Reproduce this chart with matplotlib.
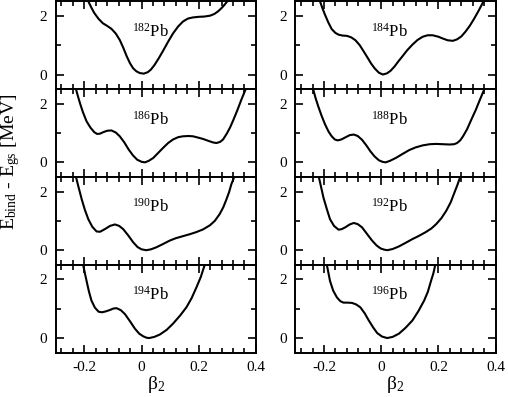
import numpy as np
import matplotlib
matplotlib.use("Agg")
import matplotlib.pyplot as plt
from matplotlib.ticker import MultipleLocator

plt.rcParams['font.family'] = ['Liberation Serif', 'DejaVu Serif']
plt.rcParams['mathtext.fontset'] = 'custom'
plt.rcParams['mathtext.rm'] = 'Liberation Serif'
plt.rcParams['mathtext.it'] = 'Liberation Serif:italic'
plt.rcParams['axes.unicode_minus'] = False

# beta_2 deformation vs E_bind - E_gs [MeV]
nuclei = ["182", "184", "186", "188", "190", "192", "194", "196"]

beta_182 = [-0.186, -0.175, -0.165, -0.15, -0.135, -0.12, -0.105, -0.09, -0.076,
            -0.064, -0.052, -0.04, -0.029, -0.018, -0.006, 0.008, 0.022, 0.033,
            0.045, 0.06, 0.076, 0.093, 0.11, 0.128, 0.145, 0.162, 0.18, 0.2,
            0.22, 0.24, 0.255, 0.268, 0.28, 0.29, 0.30]
e_182 = [2.50, 2.28, 2.10, 1.90, 1.75, 1.66, 1.56, 1.40, 1.18,
         0.92, 0.63, 0.38, 0.21, 0.11, 0.05, 0.03, 0.08, 0.17,
         0.32, 0.55, 0.82, 1.12, 1.40, 1.64, 1.81, 1.91, 1.95, 1.97,
         1.98, 2.01, 2.07, 2.16, 2.27, 2.38, 2.50]

beta_184 = [-0.214, -0.205, -0.196, -0.185, -0.173, -0.16, -0.149, -0.135, -0.12,
            -0.105, -0.09, -0.075, -0.062, -0.048, -0.035, -0.022, -0.008, 0.006,
            0.02, 0.033, 0.047, 0.06, 0.074, 0.09, 0.109, 0.127, 0.145, 0.162,
            0.18, 0.2, 0.215, 0.232, 0.25, 0.265, 0.28, 0.295, 0.31, 0.325,
            0.34, 0.355, 0.362]
e_184 = [2.50, 2.25, 2.03, 1.78, 1.55, 1.42, 1.36, 1.33, 1.32,
         1.27, 1.17, 1.00, 0.80, 0.58, 0.37, 0.20, 0.06, 0.0,
         0.04, 0.13, 0.28, 0.45, 0.62, 0.82, 1.02, 1.18, 1.29, 1.34,
         1.34, 1.29, 1.23, 1.17, 1.15, 1.20, 1.30, 1.47, 1.67, 1.91,
         2.17, 2.45, 2.55]

beta_186 = [-0.229, -0.222, -0.215, -0.205, -0.192, -0.178, -0.165, -0.155, -0.145,
            -0.134, -0.12, -0.105, -0.09, -0.076, -0.06, -0.045, -0.03, -0.015,
            0.0, 0.012, 0.025, 0.041, 0.058, 0.076, 0.093, 0.11, 0.128, 0.145,
            0.165, 0.18, 0.2, 0.215, 0.235, 0.25, 0.262, 0.275, 0.285, 0.298,
            0.31, 0.322, 0.335, 0.349, 0.362, 0.366]
e_186 = [2.50, 2.25, 2.02, 1.72, 1.40, 1.18, 1.03, 0.97, 0.98,
         1.03, 1.08, 1.09, 1.02, 0.89, 0.68, 0.44, 0.24, 0.09,
         0.02, 0.0, 0.05, 0.15, 0.32, 0.50, 0.66, 0.78, 0.86, 0.89,
         0.90, 0.89, 0.84, 0.80, 0.73, 0.68, 0.66, 0.70, 0.78, 0.98,
         1.20, 1.47, 1.78, 2.14, 2.45, 2.55]

beta_188 = [-0.238, -0.229, -0.22, -0.208, -0.196, -0.184, -0.173, -0.162, -0.152,
            -0.14, -0.126, -0.11, -0.096, -0.082, -0.067, -0.052, -0.038, -0.023,
            -0.008, 0.004, 0.015, 0.03, 0.051, 0.075, 0.098, 0.12, 0.145, 0.17,
            0.192, 0.215, 0.239, 0.255, 0.265, 0.276, 0.286, 0.3, 0.315, 0.33,
            0.345, 0.357, 0.362]
e_188 = [2.50, 2.18, 1.91, 1.58, 1.29, 1.05, 0.89, 0.78, 0.75,
         0.78, 0.85, 0.93, 0.95, 0.90, 0.77, 0.58, 0.38, 0.20,
         0.07, 0.02, 0.0, 0.05, 0.15, 0.29, 0.42, 0.51, 0.58, 0.62,
         0.63, 0.62, 0.61, 0.62, 0.66, 0.75, 0.89, 1.13, 1.46, 1.78,
         2.14, 2.42, 2.55]

beta_190 = [-0.229, -0.22, -0.209, -0.198, -0.186, -0.172, -0.157, -0.145, -0.128,
            -0.11, -0.093, -0.078, -0.064, -0.046, -0.029, -0.014, 0.0, 0.017,
            0.033, 0.052, 0.075, 0.099, 0.12, 0.145, 0.17, 0.192, 0.215, 0.239,
            0.256, 0.273, 0.286, 0.297, 0.306, 0.314, 0.326]
e_190 = [2.50, 2.15, 1.74, 1.38, 1.06, 0.80, 0.64, 0.63, 0.72,
         0.83, 0.88, 0.83, 0.72, 0.50, 0.27, 0.11, 0.03, 0.0,
         0.03, 0.10, 0.21, 0.33, 0.41, 0.48, 0.55, 0.62, 0.71, 0.85,
         1.00, 1.23, 1.47, 1.74, 1.98, 2.25, 2.55]

beta_192 = [-0.218, -0.21, -0.202, -0.19, -0.179, -0.165, -0.149, -0.138, -0.126,
            -0.11, -0.096, -0.082, -0.067, -0.05, -0.032, -0.016, -0.002, 0.01,
            0.021, 0.04, 0.062, 0.085, 0.109, 0.13, 0.156, 0.175, 0.192, 0.21,
            0.227, 0.243, 0.256, 0.266, 0.276]
e_192 = [2.50, 2.15, 1.80, 1.40, 1.06, 0.83, 0.70, 0.72, 0.78,
         0.88, 0.93, 0.89, 0.78, 0.56, 0.33, 0.16, 0.06, 0.02,
         0.0, 0.04, 0.13, 0.25, 0.38, 0.48, 0.62, 0.74, 0.89, 1.09,
         1.34, 1.64, 1.97, 2.22, 2.50]

beta_194 = [-0.204, -0.198, -0.192, -0.184, -0.175, -0.163, -0.15, -0.138, -0.125,
            -0.11, -0.098, -0.087, -0.072, -0.058, -0.04, -0.023, -0.008, 0.006,
            0.018, 0.027, 0.045, 0.064, 0.088, 0.11, 0.135, 0.157, 0.175, 0.192,
            0.207, 0.221]
e_194 = [2.50, 2.22, 1.95, 1.60, 1.28, 1.04, 0.90, 0.88, 0.91,
         0.96, 1.01, 1.02, 0.95, 0.82, 0.57, 0.32, 0.15, 0.06,
         0.01, 0.0, 0.04, 0.12, 0.28, 0.49, 0.77, 1.05, 1.36, 1.73,
         2.08, 2.50]

beta_196 = [-0.19, -0.184, -0.179, -0.168, -0.155, -0.143, -0.132, -0.118, -0.102,
            -0.088, -0.073, -0.058, -0.044, -0.028, -0.014, 0.003, 0.021, 0.04,
            0.062, 0.085, 0.109, 0.13, 0.15, 0.163, 0.174, 0.182, 0.189]
e_196 = [2.50, 2.20, 1.95, 1.62, 1.39, 1.26, 1.21, 1.21, 1.20,
         1.15, 1.05, 0.85, 0.61, 0.36, 0.17, 0.05, 0.0, 0.04,
         0.15, 0.35, 0.60, 0.92, 1.28, 1.58, 1.95, 2.20, 2.50]

betas = [beta_182, beta_184, beta_186, beta_188, beta_190, beta_192, beta_194, beta_196]
energies = [e_182, e_184, e_186, e_188, e_190, e_192, e_194, e_196]

fig, axs = plt.subplots(4, 2, figsize=(5.08, 3.97), dpi=100, sharex=True)
fig.subplots_adjust(left=0.1096, right=0.9757, top=0.9967, bottom=0.1116,
                    hspace=0, wspace=0.197)

for i, ax in enumerate(axs.flat):
    ax.plot(betas[i], energies[i], color='black', lw=1.5)
    ax.text(0.03, 1.3, r"$^{%s}$Pb" % nuclei[i], ha='center', va='baseline',
            fontsize=12)
    ax.set_xlim(-0.3, 0.4)
    ax.set_ylim(-0.5, 2.5)
    ax.xaxis.set_major_locator(MultipleLocator(0.2))
    ax.xaxis.set_minor_locator(MultipleLocator(0.04))
    ax.yaxis.set_major_locator(MultipleLocator(2))
    ax.yaxis.set_minor_locator(MultipleLocator(1))
    ax.tick_params(which='both', direction='in', top=True, right=True,
                   width=1.2, labelsize=11, pad=6)
    ax.tick_params(which='major', length=6)
    ax.tick_params(which='minor', length=3.5)
    for sp in ax.spines.values():
        sp.set_linewidth(1.4)

for ax in axs[-1]:
    ax.set_xticks([-0.2, 0, 0.2, 0.4])
    ax.set_xticklabels(["-0.2", "0", "0.2", "0.4"])
    ax.set_xlabel("β$_2$", fontsize=14, labelpad=0)

fig.text(0.02, 0.592, "E$_{\\mathrm{bind}}$ - E$_{\\mathrm{gs}}$ [MeV]",
         rotation=90, ha='center', va='center', fontsize=14)

fig.savefig("out.png", dpi=100)
